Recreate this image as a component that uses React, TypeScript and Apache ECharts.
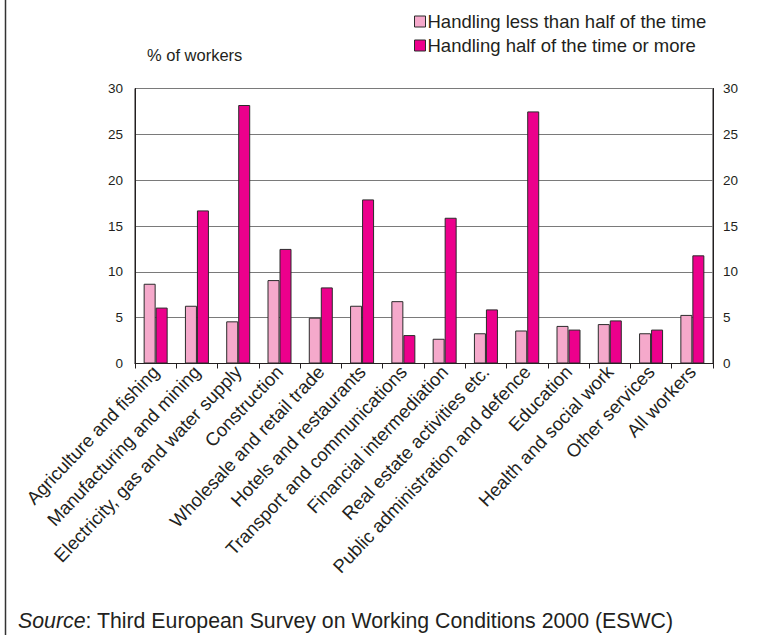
import React, { useEffect, useRef } from "react";
import * as echarts from "echarts";

const categories = [
  "Agriculture and fishing",
  "Manufacturing and mining",
  "Electricity, gas and water supply",
  "Construction",
  "Wholesale and retail trade",
  "Hotels and restaurants",
  "Transport and communications",
  "Financial intermediation",
  "Real estate activities etc.",
  "Public administration and defence",
  "Education",
  "Health and social work",
  "Other services",
  "All workers",
];

const seriesNames = [
  "Handling less than half of the time",
  "Handling half of the time or more",
];

const lessThanHalf = [8.7, 6.3, 4.6, 9.1, 5.0, 6.3, 6.8, 2.7, 3.3, 3.6, 4.1, 4.3, 3.3, 5.3];
const halfOrMore = [6.1, 16.7, 28.2, 12.5, 8.3, 17.9, 3.1, 15.9, 5.9, 27.5, 3.7, 4.7, 3.7, 11.8];

const yMin = 0;
const yMax = 30;
const yStep = 5;

const FONT = "'Liberation Sans', Arial, Helvetica, sans-serif";
const TEXT = "#231F20";
const LIGHT = "#F5A9CB";
const DARK = "#EC008C";
const EDGE = "#2B2B2B";

export default function App() {
  const ref = useRef<HTMLDivElement>(null);

  useEffect(() => {
    document.body.style.margin = "0";
    if (!ref.current) return;
    const chart = echarts.init(ref.current, null, { renderer: "svg" });
    const yAxisCommon = {
      type: "value" as const,
      min: yMin,
      max: yMax,
      interval: yStep,
      axisLine: { show: true, lineStyle: { color: TEXT, width: 1 } },
      axisTick: { show: false },
    };
    chart.setOption({
      animation: false,
      backgroundColor: "#ffffff",
      textStyle: { fontFamily: FONT, color: TEXT },
      grid: {
        left: 135,
        right: 64,
        top: 88.5,
        bottom: 271.5,
        show: true,
        borderColor: TEXT,
        borderWidth: 1,
        containLabel: false,
      },
      legend: {
        orient: "vertical",
        left: 409,
        top: 7,
        itemWidth: 11,
        itemHeight: 11,
        itemGap: 5,
        icon: "rect",
        textStyle: { fontFamily: FONT, fontSize: 18.5, color: TEXT, padding: [0, 0, 0, -3] },
        data: [
          { name: seriesNames[0], itemStyle: { color: LIGHT, borderColor: EDGE, borderWidth: 1 } },
          { name: seriesNames[1], itemStyle: { color: DARK, borderColor: EDGE, borderWidth: 1 } },
        ],
      },
      xAxis: {
        type: "category",
        data: categories,
        axisLine: { show: true, lineStyle: { color: TEXT, width: 1 } },
        axisTick: { show: true, length: 5, lineStyle: { color: TEXT } },
        axisLabel: {
          rotate: 46.5,
          interval: 0,
          margin: 5,
          fontFamily: FONT,
          fontSize: 18.5,
          color: TEXT,
        },
      },
      yAxis: [
        {
          ...yAxisCommon,
          position: "left",
          splitLine: { show: true, lineStyle: { color: "#7A7A7A", width: 1 } },
          axisLabel: { fontFamily: FONT, fontSize: 13.5, color: TEXT, margin: 12 },
        },
        {
          ...yAxisCommon,
          position: "right",
          splitLine: { show: false },
          axisLabel: { fontFamily: FONT, fontSize: 13.5, color: TEXT, margin: 10 },
        },
      ],
      series: [
        {
          name: seriesNames[0],
          type: "bar",
          data: lessThanHalf,
          barWidth: 12,
          barGap: "0%",
          itemStyle: { color: LIGHT, borderColor: EDGE, borderWidth: 1 },
        },
        {
          name: seriesNames[1],
          type: "bar",
          data: halfOrMore,
          barWidth: 12,
          barGap: "0%",
          itemStyle: { color: DARK, borderColor: EDGE, borderWidth: 1 },
        },
      ],
      graphic: [
        {
          type: "line",
          shape: { x1: 5.5, y1: 0, x2: 5.5, y2: 635 },
          style: { stroke: "#333333", lineWidth: 1.5 },
        },
        {
          type: "text",
          left: 147,
          top: 46,
          style: { text: "% of workers", fontFamily: FONT, fontSize: 16.5, fill: TEXT },
        },
        {
          type: "text",
          left: 18,
          top: 610,
          style: {
            text: "{i|Source}: Third European Survey on Working Conditions 2000 (ESWC)",
            fontFamily: FONT,
            fontSize: 21.3,
            fill: TEXT,
            rich: { i: { fontStyle: "italic", fontFamily: FONT, fontSize: 21.3, fill: TEXT } },
          },
        },
      ],
    });
    return () => chart.dispose();
  }, []);

  return <div ref={ref} style={{ width: 777, height: 635 }} />;
}
